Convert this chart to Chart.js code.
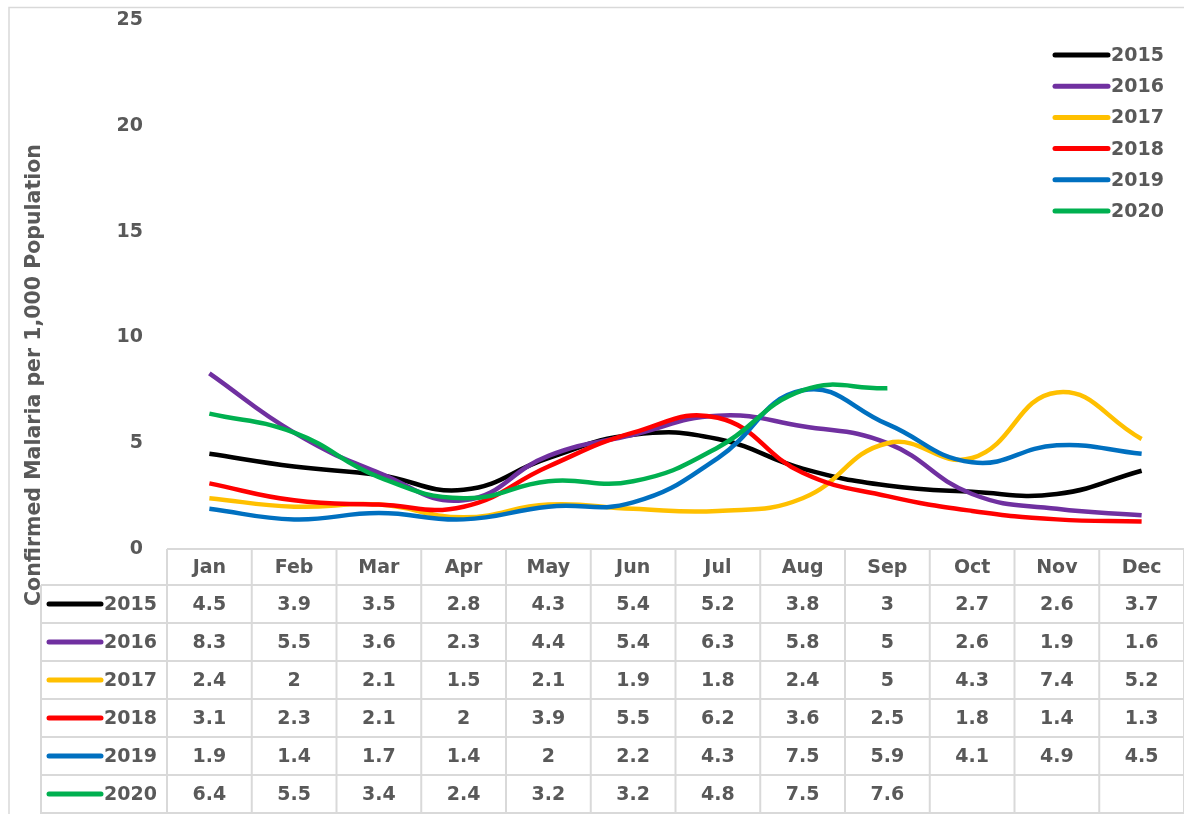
<!DOCTYPE html>
<html>
<head>
<meta charset="utf-8">
<script src="https://cdn.jsdelivr.net/npm/chart.js@4.4.0/dist/chart.umd.min.js"></script>
<style>
  html, body { margin: 0; padding: 0; background: #fff; }
  #wrap { width: 1184px; height: 814px; }
</style>
</head>
<body>
<div id="wrap"><canvas id="chart" width="1184" height="814"></canvas></div>
<script>
const months = ['Jan', 'Feb', 'Mar', 'Apr', 'May', 'Jun', 'Jul', 'Aug', 'Sep', 'Oct', 'Nov', 'Dec'];
const years = ['2015', '2016', '2017', '2018', '2019', '2020'];
const colors = ['#000000', '#7030a0', '#ffc000', '#ff0000', '#0070c0', '#00b050'];

const y2015 = [4.5, 3.9, 3.5, 2.8, 4.3, 5.4, 5.2, 3.8, 3, 2.7, 2.6, 3.7];
const y2016 = [8.3, 5.5, 3.6, 2.3, 4.4, 5.4, 6.3, 5.8, 5, 2.6, 1.9, 1.6];
const y2017 = [2.4, 2, 2.1, 1.5, 2.1, 1.9, 1.8, 2.4, 5, 4.3, 7.4, 5.2];
const y2018 = [3.1, 2.3, 2.1, 2, 3.9, 5.5, 6.2, 3.6, 2.5, 1.8, 1.4, 1.3];
const y2019 = [1.9, 1.4, 1.7, 1.4, 2, 2.2, 4.3, 7.5, 5.9, 4.1, 4.9, 4.5];
const y2020 = [6.4, 5.5, 3.4, 2.4, 3.2, 3.2, 4.8, 7.5, 7.6, null, null, null];
const series = [y2015, y2016, y2017, y2018, y2019, y2020];

const yTicks = [0, 5, 10, 15, 20, 25];
const yTitle = 'Confirmed Malaria per 1,000 Population';

const FONT = '"DejaVu Sans", sans-serif';
const TXT = '#595959';
const GRID = '#d9d9d9';

// table, legend and frame drawn on top of the chart
const tablePlugin = {
  id: 'dataTable',
  afterDraw(chart) {
    const ctx = chart.ctx;
    const x = chart.scales.x;
    const area = chart.chartArea;
    const colW = (area.right - area.left) / months.length;
    const headTop = area.bottom;
    const headH = 36;
    const rowH = 38;
    const legLeft = 41;

    ctx.save();
    // outer frame
    ctx.strokeStyle = GRID;
    ctx.lineWidth = 1.5;
    ctx.beginPath();
    ctx.moveTo(9, 814);
    ctx.lineTo(9, 7.5);
    ctx.lineTo(1184, 7.5);
    ctx.stroke();

    // table grid
    ctx.lineWidth = 2;
    ctx.beginPath();
    ctx.moveTo(area.left, headTop);
    ctx.lineTo(area.right, headTop);
    for (let r = 0; r <= years.length; r++) {
      const yy = headTop + headH + r * rowH;
      ctx.moveTo(legLeft, yy);
      ctx.lineTo(area.right, yy);
    }
    ctx.moveTo(legLeft, headTop + headH);
    ctx.lineTo(legLeft, 814);
    for (let c = 0; c <= months.length; c++) {
      const xx = area.left + c * colW;
      ctx.moveTo(xx, headTop);
      ctx.lineTo(xx, 814);
    }
    ctx.stroke();

    // header + values
    ctx.fillStyle = TXT;
    ctx.font = 'bold 19px ' + FONT;
    ctx.textAlign = 'center';
    ctx.textBaseline = 'middle';
    months.forEach((m, i) => {
      ctx.fillText(m, x.getPixelForValue(i), headTop + headH / 2 + 1);
    });
    series.forEach((vals, r) => {
      const cy = headTop + headH + r * rowH + rowH / 2 + 1;
      vals.forEach((v, i) => {
        if (v === null) return;
        ctx.fillText(String(v), x.getPixelForValue(i), cy);
      });
    });

    // legend keys in table
    ctx.lineCap = 'round';
    ctx.textAlign = 'left';
    years.forEach((yr, r) => {
      const cy = headTop + headH + r * rowH + rowH / 2;
      ctx.strokeStyle = colors[r];
      ctx.lineWidth = 5;
      ctx.beginPath();
      ctx.moveTo(49, cy);
      ctx.lineTo(101, cy);
      ctx.stroke();
      ctx.fillStyle = TXT;
      ctx.fillText(yr, 104, cy + 1);
    });

    // legend top right
    years.forEach((yr, r) => {
      const cy = 55 + r * 31.2;
      ctx.strokeStyle = colors[r];
      ctx.lineWidth = 5;
      ctx.beginPath();
      ctx.moveTo(1055, cy);
      ctx.lineTo(1108, cy);
      ctx.stroke();
      ctx.fillStyle = TXT;
      ctx.fillText(yr, 1111, cy + 1);
    });

    // y axis title
    ctx.font = 'bold 20.5px ' + FONT;
    ctx.translate(35, 375);
    ctx.rotate(-Math.PI / 2);
    ctx.textAlign = 'center';
    ctx.fillText(yTitle, 0, 0);
    ctx.restore();
  }
};

const datasets = years.map((yr, i) => ({
  label: yr,
  data: series[i],
  borderColor: colors[i],
  backgroundColor: colors[i],
  borderWidth: 4.5,
  pointRadius: 0,
  tension: 0.45,
  fill: false,
  order: years.length - i,
}));

new Chart(document.getElementById('chart'), {
  type: 'line',
  data: { labels: months, datasets: datasets },
  options: {
    responsive: false,
    animation: false,
    layout: { padding: { left: 0, top: 20, right: 0, bottom: 265 } },
    plugins: { legend: { display: false }, tooltip: { enabled: false } },
    scales: {
      x: {
        display: false,
        offset: true,
      },
      y: {
        min: 0,
        max: 25,
        afterFit: (s) => { s.width = 167; },
        afterBuildTicks: (s) => { s.ticks = yTicks.map((v) => ({ value: v })); },
        grid: { display: false, drawTicks: true, tickLength: 24 },
        border: { display: false },
        ticks: {
          padding: 0,
          color: TXT,
          font: { family: FONT, size: 19, weight: 'bold' },
        },
      },
    },
  },
  plugins: [tablePlugin],
});
</script>
</body>
</html>
